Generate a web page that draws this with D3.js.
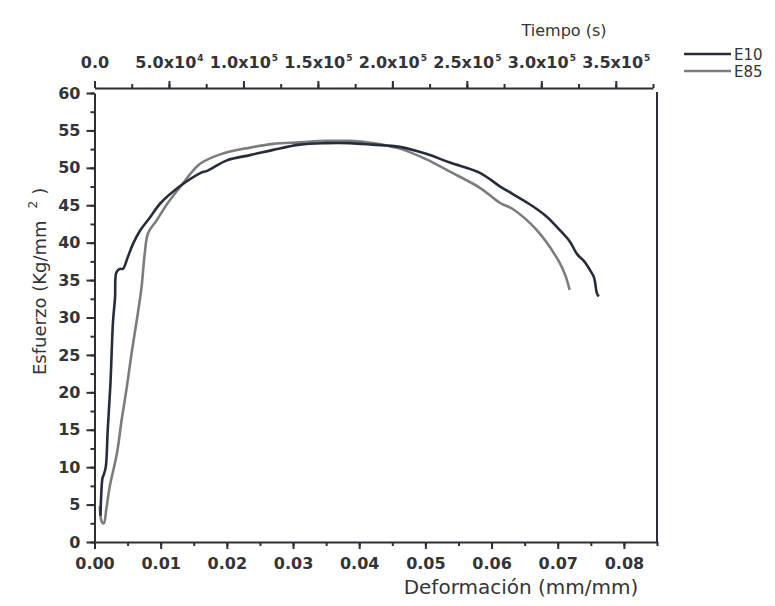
<!DOCTYPE html>
<html>
<head>
<meta charset="utf-8">
<script src="https://cdn.jsdelivr.net/npm/d3@7"></script>
<style>
  html, body { margin: 0; padding: 0; background: #ffffff; }
  svg { display: block; }
</style>
</head>
<body>
<svg id="chart" width="775" height="606"></svg>
<script>
// ---- Data ----
const seriesNames = ["E10", "E85"];
const e10Strain = [0.0009, 0.0010, 0.0012, 0.0014, 0.0017, 0.0020, 0.0024, 0.0028, 0.0031, 0.0033, 0.0038, 0.0043, 0.0050, 0.0058, 0.0068, 0.0084, 0.0100, 0.0130, 0.0160, 0.0170, 0.0200, 0.0235, 0.0270, 0.0310, 0.0350, 0.0386, 0.0420, 0.0461, 0.0500, 0.0537, 0.0583, 0.0613, 0.0632, 0.0660, 0.0683, 0.0705, 0.0718, 0.0729, 0.0740, 0.0749, 0.0755, 0.0759, 0.0762];
const e10Stress = [3.5, 6.0, 8.5, 9.0, 10.0, 15.0, 21.0, 29.5, 32.6, 36.0, 36.5, 36.5, 38.0, 39.8, 41.5, 43.4, 45.3, 47.6, 49.3, 49.6, 51.0, 51.7, 52.4, 53.1, 53.3, 53.3, 53.1, 52.8, 51.9, 50.7, 49.3, 47.5, 46.5, 45.0, 43.5, 41.5, 40.2, 38.5, 37.5, 36.3, 35.3, 33.3, 32.8];
const e85Strain = [0.0008, 0.0011, 0.0014, 0.0018, 0.0023, 0.0034, 0.0041, 0.0049, 0.0056, 0.0064, 0.0071, 0.0076, 0.0081, 0.0094, 0.0110, 0.0130, 0.0159, 0.0190, 0.0235, 0.0270, 0.0310, 0.0350, 0.0386, 0.0420, 0.0460, 0.0500, 0.0537, 0.0583, 0.0613, 0.0632, 0.0668, 0.0703, 0.0712, 0.0718];
const e85Stress = [4.8, 2.7, 2.5, 4.5, 7.4, 11.9, 16.3, 20.8, 25.2, 29.7, 34.0, 38.6, 41.3, 43.0, 45.2, 47.5, 50.5, 51.8, 52.7, 53.2, 53.4, 53.6, 53.6, 53.3, 52.6, 51.2, 49.5, 47.3, 45.3, 44.5, 41.7, 37.3, 35.5, 33.7];

const xTicks = [0, 0.01, 0.02, 0.03, 0.04, 0.05, 0.06, 0.07, 0.08];
const xTickLabels = ["0.00", "0.01", "0.02", "0.03", "0.04", "0.05", "0.06", "0.07", "0.08"];
const yTicks = [0, 5, 10, 15, 20, 25, 30, 35, 40, 45, 50, 55, 60];
const topTicks = [0, 50000, 100000, 150000, 200000, 250000, 300000, 350000];
const topTickMantissa = ["0.0", "5.0x10", "1.0x10", "1.5x10", "2.0x10", "2.5x10", "3.0x10", "3.5x10"];
const topTickExponent = ["", "4", "5", "5", "5", "5", "5", "5"];

const xTitle = "Deformación (mm/mm)";
const topTitle = "Tiempo (s)";

// ---- Layout ----
const svg = d3.select("#chart");
const X0 = 94.5, X1 = 657, Y0 = 542, Y1 = 93, TOPY = 88, TOPX1 = 653;
const axisColor = "#2e2f36";
const textColor = "#333438";
const darkColor = "#272c3b";
const grayColor = "#7b7c80";

const x = d3.scaleLinear().domain([0, 0.085]).range([X0, X1]);
const y = d3.scaleLinear().domain([0, 60]).range([Y0, Y1]);
const t = d3.scaleLinear().domain([0, 375000]).range([X0, TOPX1]);

function styleAxis(g, fontSize) {
  g.select(".domain").attr("stroke", axisColor).attr("stroke-width", 2);
  g.selectAll(".tick line").attr("stroke", axisColor).attr("stroke-width", 2);
  g.selectAll(".tick text")
    .attr("fill", textColor)
    .style("font-family", "'DejaVu Sans', sans-serif")
    .style("font-weight", "bold")
    .style("font-size", fontSize + "px");
}

// Minor ticks
const xMinor = d3.range(0, 0.0851, 0.005);
const yMinor = d3.range(0, 60.01, 2.5);
const tMinor = d3.range(0, 375001, 25000);

svg.append("g").attr("transform", `translate(0,${Y0})`)
  .call(d3.axisBottom(x).tickValues(xMinor).tickSize(4).tickSizeOuter(0).tickFormat(""))
  .call(g => { styleAxis(g, 16); g.select(".domain").remove(); });
svg.append("g").attr("transform", `translate(${X0},0)`)
  .call(d3.axisLeft(y).tickValues(yMinor).tickSize(4).tickSizeOuter(0).tickFormat(""))
  .call(g => { styleAxis(g, 16); g.select(".domain").remove(); });
svg.append("g").attr("transform", `translate(0,${TOPY})`)
  .call(d3.axisTop(t).tickValues(tMinor).tickSize(4).tickSizeOuter(0).tickFormat(""))
  .call(g => { styleAxis(g, 16); g.select(".domain").remove(); });

// Major axes
svg.append("g").attr("class", "x-axis").attr("transform", `translate(0,${Y0})`)
  .call(d3.axisBottom(x).tickValues(xTicks).tickSize(7).tickSizeOuter(0).tickPadding(9)
    .tickFormat((d, i) => xTickLabels[i]))
  .call(g => styleAxis(g, 16));

svg.append("g").attr("class", "y-axis").attr("transform", `translate(${X0},0)`)
  .call(d3.axisLeft(y).tickValues(yTicks).tickSize(8).tickSizeOuter(0).tickPadding(6))
  .call(g => styleAxis(g, 16));

const topAxis = svg.append("g").attr("class", "t-axis").attr("transform", `translate(0,${TOPY})`)
  .call(d3.axisTop(t).tickValues(topTicks).tickSize(7).tickSizeOuter(0).tickPadding(20).tickFormat(""))
  .call(g => styleAxis(g, 16));
topAxis.selectAll(".tick").each(function (d, i) {
  const txt = d3.select(this).select("text");
  txt.text(null).attr("y", -20).attr("dy", 0);
  txt.append("tspan").text(topTickMantissa[i]);
  if (topTickExponent[i]) {
    txt.append("tspan").text(topTickExponent[i])
      .attr("dy", -7).attr("dx", 1)
      .style("font-size", "9px");
  }
});

// Right frame line
svg.append("line")
  .attr("x1", X1).attr("x2", X1).attr("y1", Y1 - 1).attr("y2", Y0)
  .attr("stroke", axisColor).attr("stroke-width", 2);

// ---- Curves ----
const e10 = e10Strain.map((s, i) => ({ s: s, v: e10Stress[i] }));
const e85 = e85Strain.map((s, i) => ({ s: s, v: e85Stress[i] }));
const line = d3.line().x(d => x(d.s)).y(d => y(d.v)).curve(d3.curveCatmullRom.alpha(0.5));

svg.append("path").datum(e85)
  .attr("fill", "none").attr("stroke", grayColor).attr("stroke-width", 2.6)
  .attr("stroke-linejoin", "round").attr("d", line);
svg.append("path").datum(e10)
  .attr("fill", "none").attr("stroke", darkColor).attr("stroke-width", 2.6)
  .attr("stroke-linejoin", "round").attr("d", line);

// ---- Titles ----
svg.append("text")
  .attr("x", 521).attr("y", 594).attr("text-anchor", "middle")
  .attr("fill", textColor)
  .style("font-family", "'DejaVu Sans', sans-serif").style("font-size", "20px")
  .text(xTitle);

svg.append("text")
  .attr("x", 564).attr("y", 36).attr("text-anchor", "middle")
  .attr("fill", textColor)
  .style("font-family", "'DejaVu Sans', sans-serif").style("font-size", "16px")
  .text(topTitle);

const yt = svg.append("text")
  .attr("transform", "translate(46,375) rotate(-90)")
  .attr("text-anchor", "start")
  .attr("fill", textColor)
  .style("font-family", "'DejaVu Sans', sans-serif").style("font-size", "18px");
yt.append("tspan").text("Esfuerzo (Kg/mm");
yt.append("tspan").text("2").attr("dx", 12).attr("dy", -9).style("font-size", "12px");
yt.append("tspan").text(")").attr("dx", 6).attr("dy", 9);

// ---- Legend ----
const legend = svg.append("g");
const legendColors = [darkColor, grayColor];
const legendY = [54, 71];
seriesNames.forEach((name, i) => {
  legend.append("line")
    .attr("x1", 684).attr("x2", 731).attr("y1", legendY[i]).attr("y2", legendY[i])
    .attr("stroke", legendColors[i]).attr("stroke-width", 2.6);
  legend.append("text")
    .attr("x", 734).attr("y", legendY[i] + 5.5)
    .attr("fill", textColor)
    .style("font-family", "'DejaVu Sans', sans-serif").style("font-size", "15px")
    .text(name);
});
</script>
</body>
</html>
